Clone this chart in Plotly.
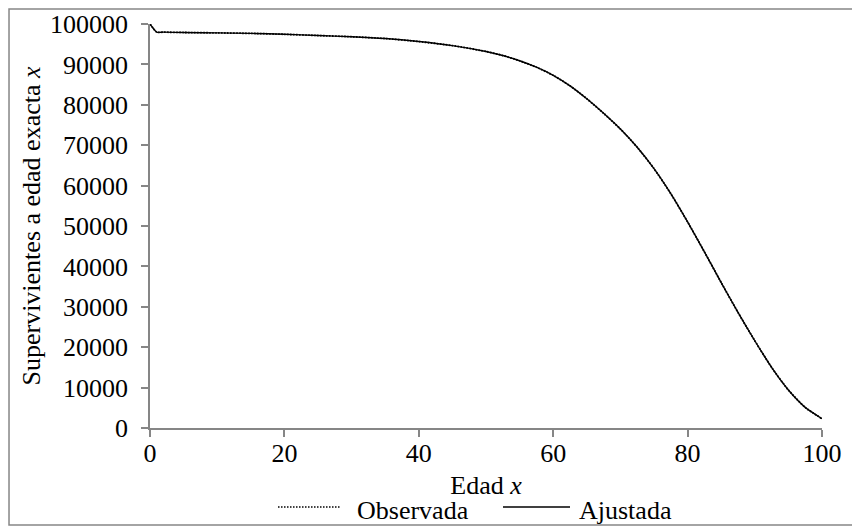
import plotly.graph_objects as go

edad = [0, 1, 2, 5, 10, 15, 20, 25, 30, 35, 40, 45, 50, 52.5, 55, 57.5, 60, 62.5, 65, 67.5, 70,
        72.5, 75, 77.5, 80, 82.5, 85, 87.5, 90, 92.5, 95, 97.5, 100]
observada = [100000, 98000, 97980, 97900, 97800, 97680, 97450, 97150, 96850, 96400, 95650, 94650,
             93200, 92200, 90900, 89300, 87300, 84700, 81500, 77900, 74000,
             69500, 64200, 58000, 51000, 43600, 36000, 28600, 21600, 15000, 9400, 5100, 2300]
ajustada = [100000, 98000, 97980, 97900, 97800, 97680, 97450, 97150, 96850, 96400, 95650, 94650,
            93200, 92200, 90900, 89300, 87300, 84700, 81500, 77900, 74000,
            69500, 64200, 58000, 51000, 43600, 36000, 28600, 21600, 15000, 9400, 5100, 2300]

x_ticks = [0, 20, 40, 60, 80, 100]
y_ticks = [0, 10000, 20000, 30000, 40000, 50000, 60000, 70000, 80000, 90000, 100000]
series_names = ["Observada", "Ajustada"]

FONT = "Liberation Serif, 'Times New Roman', Tinos, 'DejaVu Serif', serif"
GRAY = "#868686"
FS = 26

fig = go.Figure()
fig.add_trace(go.Scatter(x=edad, y=ajustada, name=series_names[1], mode="lines",
                         line=dict(color="black", width=1.4, shape="spline", smoothing=0.6)))
fig.add_trace(go.Scatter(x=edad, y=observada, name=series_names[0], mode="lines",
                         line=dict(color="black", width=1.8, dash="1.5px,1.5px",
                                   shape="spline", smoothing=0.6)))

# manual legend (sample lines + labels)
leg_y = -0.1955
shapes = [
    dict(type="rect", xref="paper", yref="paper",
         x0=-0.2098, x1=1.0506, y0=-0.2401, y1=1.0371,
         line=dict(color=GRAY, width=1.5), fillcolor="rgba(0,0,0,0)", layer="below"),
    dict(type="line", xref="paper", yref="paper", x0=0.1905, x1=0.2827, y0=leg_y, y1=leg_y,
         line=dict(color="black", width=1.6, dash="1.5px,1.5px")),
    dict(type="line", xref="paper", yref="paper", x0=0.5253, x1=0.625, y0=leg_y, y1=leg_y,
         line=dict(color="black", width=1.3)),
]
annotations = [
    dict(text=series_names[0], xref="paper", yref="paper", x=0.3051, y=-0.203,
         xanchor="left", yanchor="middle", showarrow=False, font=dict(family=FONT, size=FS)),
    dict(text=series_names[1], xref="paper", yref="paper", x=0.6354, y=-0.203,
         xanchor="left", yanchor="middle", showarrow=False, font=dict(family=FONT, size=FS)),
]

fig.update_layout(
    width=852, height=522,
    margin=dict(l=142, r=38, t=16, b=102),
    paper_bgcolor="white", plot_bgcolor="white",
    font=dict(family=FONT, size=FS, color="black"),
    showlegend=False,
    xaxis=dict(range=[0, 100], tickvals=x_ticks, showgrid=False, zeroline=False,
               showline=True, linecolor=GRAY, linewidth=1.5, automargin=False,
               ticks="outside", ticklen=7, tickcolor=GRAY, tickwidth=1.5,
               ticklabelstandoff=-6, tickfont=dict(family=FONT, size=FS),
               title=dict(text="Edad <i>x</i>", standoff=9, font=dict(family=FONT, size=FS))),
    yaxis=dict(range=[0, 100000], tickvals=y_ticks, tickformat="d", showgrid=False, zeroline=False,
               showline=True, linecolor=GRAY, linewidth=1.5, automargin=False,
               ticks="outside", ticklen=7, tickcolor=GRAY, tickwidth=1.5,
               ticklabelstandoff=8, tickfont=dict(family=FONT, size=FS),
               title=dict(text="Supervivientes a edad exacta <i>x</i>", standoff=2,
                          font=dict(family=FONT, size=FS))),
    shapes=shapes,
    annotations=annotations,
)

fig.write_html("out.html")
